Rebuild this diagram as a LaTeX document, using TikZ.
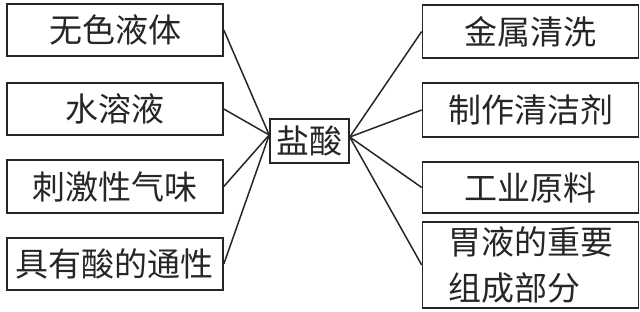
\documentclass[tikz,border=0pt]{standalone}
\usepackage{fontspec}
\setmainfont{Noto Sans CJK SC}
\begin{document}
\begin{tikzpicture}[x=1pt,y=-1pt,
  box/.style={draw=black!85, line width=1.6pt, rectangle, inner sep=0pt,
    font=\fontsize{33}{46}\selectfont, text=black!85},
  link/.style={draw=black!85, line width=1.5pt}]
\useasboundingbox (0,0) rectangle (640,312);
% left boxes
\node[box, minimum width=216pt, minimum height=52pt] (L1) at (115,30) {无色液体};
\node[box, minimum width=216pt, minimum height=52pt] (L2) at (115,109) {水溶液};
\node[box, minimum width=216pt, minimum height=53pt] (L3) at (115,186.5) {刺激性气味};
\node[box, minimum width=216pt, minimum height=52pt] (L4) at (115,264) {具有酸的通性};
% centre
\node[box, minimum width=79pt, minimum height=44pt] (C) at (309.5,141) {盐酸};
% right boxes
\node[box, minimum width=216pt, minimum height=53pt] (R1) at (530.5,31.5) {金属清洗};
\node[box, minimum width=216pt, minimum height=54pt] (R2) at (530.5,110) {制作清洁剂};
\node[box, minimum width=216pt, minimum height=51pt] (R3) at (530.5,187.5) {工业原料};
\node[box, minimum width=216pt, minimum height=86pt, align=left] (R4) at (530.5,265) {胃液的重要\\组成部分};
% connectors
\foreach \n in {L1,L2,L3,L4}
  \draw[link] (\n.east) -- ([yshift=6pt]C.west);
\foreach \n in {R1,R2,R3,R4}
  \draw[link] ([yshift=4pt]C.east) -- (\n.west);
\end{tikzpicture}
\end{document}
